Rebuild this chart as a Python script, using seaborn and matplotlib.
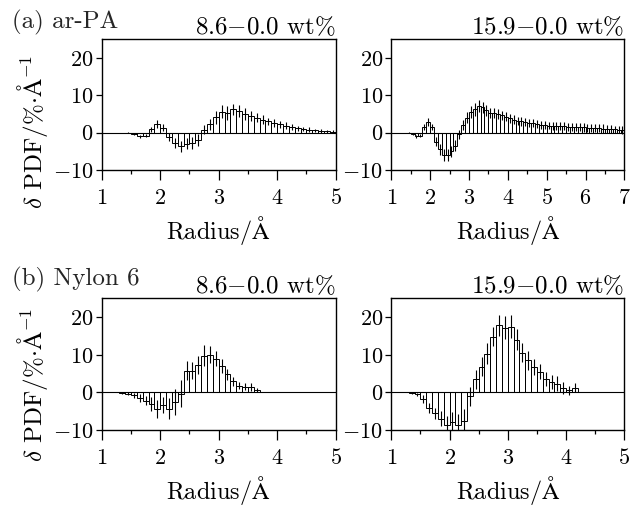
#!/usr/bin/env python3
"""delta-PDF histograms (ar-PA / Nylon 6), two loadings each, with error bars."""
import numpy as np
import pandas as pd

import matplotlib
matplotlib.use("Agg")
import matplotlib.pyplot as plt
from matplotlib.ticker import MultipleLocator, FuncFormatter
import seaborn as sns

BIN = 0.1

# ar-PA, 8.6-0.0 wt%, bins 1.0 .. 5.0
arpa_86 = [0, 0, 0, 0, 0, -0.4, -1.0, -0.8, 0.9, 2.3,
           1.3, -1.2, -2.8, -3.7, -3.0, -2.8, -2.0, 0.8, 2.2, 4.1,
           5.6, 5.2, 6.2, 5.8, 5.0, 4.5, 4.0, 3.5, 3.0, 2.6,
           2.2, 1.9, 1.5, 1.2, 1.0, 0.8, 0.6, 0.5, 0.4, 0.3]
arpa_86_err = [0, 0, 0, 0, 0.1, 0.3, 0.4, 0.5, 0.7, 1.0,
               0.9, 1.0, 1.3, 1.5, 1.5, 1.5, 1.5, 1.2, 1.5, 1.7,
               1.8, 1.8, 1.5, 1.5, 1.5, 1.3, 1.2, 1.1, 1.0, 1.0,
               0.9, 0.9, 0.8, 0.7, 0.6, 0.6, 0.5, 0.5, 0.4, 0.4]

# ar-PA, 15.9-0.0 wt%, bins 1.0 .. 7.0
arpa_159 = [0, 0, 0, 0, 0, -0.3, -1.0, -0.8, 1.5, 2.8,
            1.5, -2.5, -4.5, -6.0, -6.0, -5.0, -3.5, -0.5, 2.0, 4.0,
            5.5, 6.2, 7.0, 6.8, 6.0, 5.3, 5.2, 5.0, 4.6, 4.2,
            3.9, 3.5, 3.2, 3.0, 2.8, 2.6, 2.5, 2.3, 2.1, 2.0,
            1.9, 1.8, 1.8, 1.7, 1.7, 1.6, 1.6, 1.5, 1.5, 1.4,
            1.3, 1.3, 1.2, 1.2, 1.1, 1.0, 1.0, 0.9, 0.8, 0.7]
arpa_159_err = [0, 0, 0, 0, 0.1, 0.3, 0.4, 0.5, 0.8, 1.0,
                0.9, 1.2, 1.4, 1.6, 1.6, 1.5, 1.4, 1.3, 1.4, 1.5,
                1.6, 1.7, 1.6, 1.5, 1.5, 1.4, 1.4, 1.3, 1.3, 1.2,
                1.2, 1.2, 1.1, 1.1, 1.1, 1.1, 1.1, 1.0, 1.0, 1.0,
                1.0, 1.0, 1.1, 1.1, 1.1, 1.1, 1.1, 1.1, 1.1, 1.1,
                1.1, 1.1, 1.1, 1.1, 1.1, 1.1, 1.1, 1.0, 1.0, 1.0]

# Nylon 6, 8.6-0.0 wt%, bins 1.0 .. 5.0
nylon_86 = [0, 0, 0, -0.1, -0.4, -0.8, -1.5, -2.2, -3.1, -4.4,
            -3.3, -4.3, -2.5, -0.3, 5.8, 5.8, 7.3, 9.7, 10.0, 9.0,
            7.0, 4.8, 3.0, 1.8, 1.5, 1.4, 0.6, 0, 0, 0,
            0, 0, 0, 0, 0, 0, 0, 0, 0, 0]
nylon_86_err = [0, 0, 0, 0.2, 0.4, 0.6, 1.0, 1.2, 1.8, 2.5,
                2.2, 2.8, 3.5, 3.5, 2.5, 2.2, 2.5, 2.8, 2.2, 2.0,
                1.8, 1.5, 1.2, 1.0, 0.9, 1.0, 0.5, 0, 0, 0,
                0, 0, 0, 0, 0, 0, 0, 0, 0, 0]

# Nylon 6, 15.9-0.0 wt%, bins 1.0 .. 5.0
nylon_159 = [0, 0, 0, -0.1, -0.5, -1.8, -4.2, -5.5, -7.0, -8.7,
             -7.8, -8.6, -7.5, -1.0, 3.5, 6.8, 10.3, 14.8, 17.8, 17.2,
             17.5, 14.0, 10.5, 8.5, 6.8, 5.5, 3.5, 2.8, 2.3, 1.2,
             0.6, 1.2, 0, 0, 0, 0, 0, 0, 0, 0]
nylon_159_err = [0, 0, 0, 0.2, 0.4, 1.0, 1.3, 1.5, 2.0, 2.5,
                 2.5, 2.8, 3.0, 2.5, 2.5, 2.5, 2.8, 2.5, 2.8, 3.0,
                 3.0, 2.8, 2.5, 2.5, 2.2, 2.0, 1.8, 1.8, 2.0, 1.5,
                 1.2, 1.2, 0, 0, 0, 0, 0, 0, 0, 0]

panels = [
    # (values, errors, x range, title, axes rect)
    (arpa_86, arpa_86_err, (1, 5), r"8.6$-$0.0 wt%", [0.161, 0.666, 0.370, 0.257]),
    (arpa_159, arpa_159_err, (1, 7), r"15.9$-$0.0 wt%", [0.619, 0.666, 0.369, 0.257]),
    (nylon_86, nylon_86_err, (1, 5), r"8.6$-$0.0 wt%", [0.161, 0.155, 0.370, 0.259]),
    (nylon_159, nylon_159_err, (1, 5), r"15.9$-$0.0 wt%", [0.619, 0.155, 0.369, 0.259]),
]

tick_fmt = FuncFormatter(lambda v, pos: r"$%d$" % round(v))


def draw_panel(ax, vals, errs, xr, title):
    n = len(vals)
    centers = xr[0] + BIN * (np.arange(n) + 0.5)
    df = pd.DataFrame({"r": centers, "d": vals, "e": errs})
    sns.histplot(data=df, x="r", weights="d", binwidth=BIN, binrange=(xr[0], xr[0] + BIN * n),
                 element="bars", fill=False, color="black", linewidth=0.7, ax=ax)
    ax.axhline(0, color="black", lw=0.8, zorder=1)
    ax.errorbar(df["r"], df["d"], yerr=df["e"], fmt="none", ecolor="black",
                elinewidth=0.8, capsize=0)
    ax.set_xlim(*xr)
    ax.set_ylim(-10, 25)
    ax.xaxis.set_major_locator(MultipleLocator(1))
    ax.xaxis.set_minor_locator(MultipleLocator(0.5))
    ax.yaxis.set_major_locator(MultipleLocator(10))
    ax.xaxis.set_major_formatter(tick_fmt)
    ax.yaxis.set_major_formatter(tick_fmt)
    ax.tick_params(axis="both", which="major", direction="out", width=0.9,
                   labelsize=16, colors="black")
    ax.tick_params(axis="y", which="major", length=4, pad=2)
    ax.tick_params(axis="x", which="major", length=7, pad=6)
    ax.tick_params(axis="x", which="minor", direction="out", length=3, width=0.9,
                   colors="black")
    ax.set_xlabel(r"Radius/$\mathrm{\AA}$", fontsize=17.5, labelpad=4, color="black")
    ax.set_ylabel("")
    ax.set_title(title, loc="right", fontsize=18, pad=4, color="black")
    for sp in ax.spines.values():
        sp.set_linewidth(1.0)
        sp.set_color("black")


def main():
    sns.set_style("ticks")
    plt.rcParams["font.family"] = ["cmr10", "DejaVu Serif"]
    plt.rcParams["mathtext.fontset"] = "cm"
    plt.rcParams["axes.formatter.use_mathtext"] = True
    plt.rcParams["axes.unicode_minus"] = True

    fig = plt.figure(figsize=(6.32, 5.09), dpi=100)
    axes = []
    for vals, errs, xr, title, rect in panels:
        ax = fig.add_axes(rect)
        draw_panel(ax, vals, errs, xr, title)
        axes.append(ax)

    ylab = r"$\delta$ PDF/%$\cdot\mathrm{\AA}^{-1}$"
    axes[0].set_ylabel(ylab, fontsize=18, color="black")
    axes[0].yaxis.set_label_coords(-0.22, 0.29)
    axes[2].set_ylabel(ylab, fontsize=18, color="black")
    axes[2].yaxis.set_label_coords(-0.22, 0.34)

    fig.text(0.019, 0.955, "(a) ar-PA", fontsize=18, ha="left", va="center")
    fig.text(0.019, 0.450, "(b) Nylon 6", fontsize=18, ha="left", va="center")

    fig.savefig("out.png", dpi=100, facecolor="white")
    plt.close(fig)


if __name__ == "__main__":
    main()
